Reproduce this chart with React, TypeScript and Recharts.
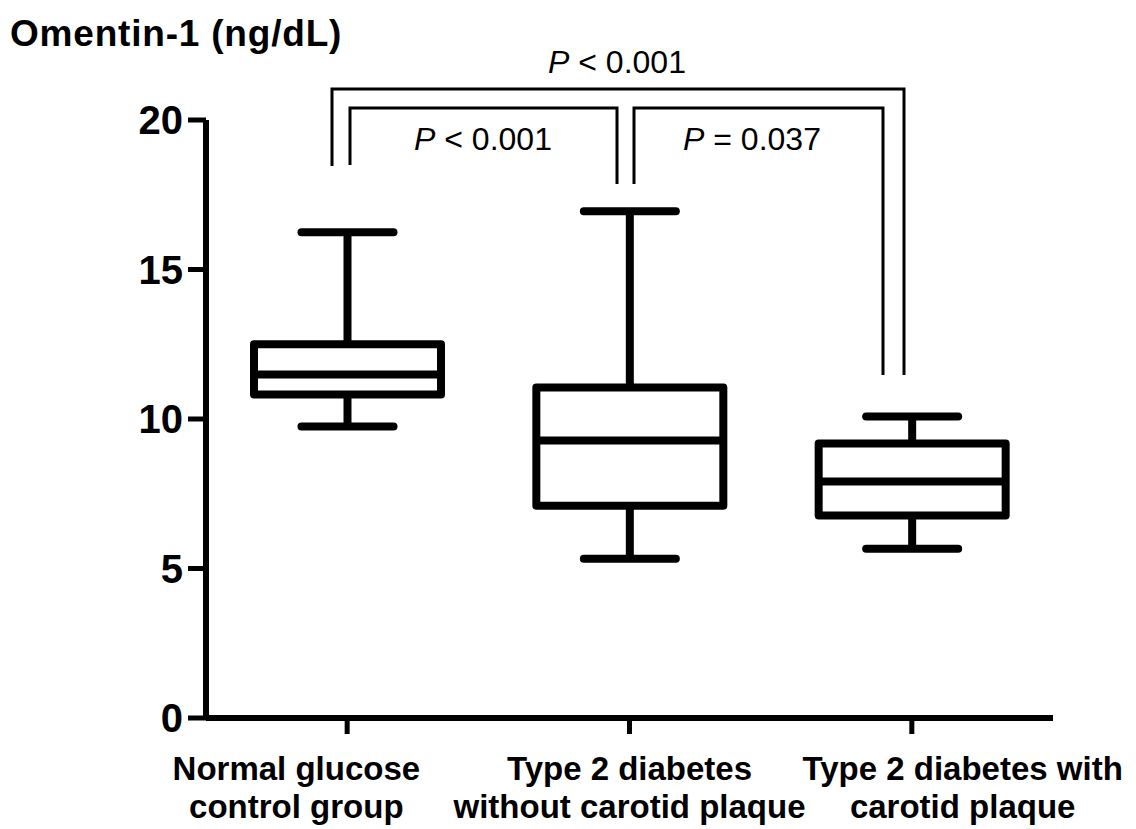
import React from 'react';
import { ComposedChart, Bar, XAxis, YAxis } from 'recharts';

// group labels (one line per entry)
const groups = [
  ['Normal glucose', 'control group'],
  ['Type 2 diabetes', 'without carotid plaque'],
  ['Type 2 diabetes with', 'carotid plaque'],
];

// box plot values, ng/dL
const mins = [9.75, 5.33, 5.66];
const q1s = [10.82, 7.1, 6.77];
const medians = [11.49, 9.28, 7.91];
const q3s = [12.5, 11.05, 9.18];
const maxs = [16.25, 16.95, 10.08];

const yTicks = [0, 5, 10, 15, 20];

const data = groups.map((g, i) => ({
  name: g.join('\n'),
  range: [mins[i], maxs[i]],
  min: mins[i],
  q1: q1s[i],
  median: medians[i],
  q3: q3s[i],
  max: maxs[i],
}));

const FONT = '"Liberation Sans", Arial, sans-serif';
const W = 1136;
const H = 829;

const BoxShape = (props: any) => {
  const { x, y, width, height, payload } = props;
  if (x == null || y == null) return null;
  const top = Math.min(y, y + height);
  const bottom = Math.max(y, y + height);
  const ppu = (bottom - top) / (payload.max - payload.min);
  const py = (v: number) => bottom - (v - payload.min) * ppu;
  const cx = x + width / 2;
  const cap = 46;
  const sw = 8;
  return (
    <g stroke="#000" strokeWidth={sw} fill="none">
      <line x1={cx} x2={cx} y1={py(payload.max)} y2={py(payload.q3)} />
      <line x1={cx} x2={cx} y1={py(payload.q1)} y2={py(payload.min)} />
      <line x1={cx - cap} x2={cx + cap} y1={py(payload.max)} y2={py(payload.max)} strokeLinecap="round" />
      <line x1={cx - cap} x2={cx + cap} y1={py(payload.min)} y2={py(payload.min)} strokeLinecap="round" />
      <rect
        x={x}
        y={py(payload.q3)}
        width={width}
        height={py(payload.q1) - py(payload.q3)}
        fill="#fff"
        strokeLinejoin="round"
      />
      <line x1={x} x2={x + width} y1={py(payload.median)} y2={py(payload.median)} />
    </g>
  );
};

const plotLeft = 206;
const plotRight = 1053;
const plotMid = (plotLeft + plotRight) / 2;

const XTick = (props: any) => {
  const { x, y, payload } = props;
  const lines = String(payload.value).split('\n');
  // labels are spread slightly wider than the ticks in the original figure
  const lx = plotMid + (x - plotMid) * 1.18;
  return (
    <text x={lx} y={y} textAnchor="middle" fontFamily={FONT} fontWeight="bold" fontSize={33} fill="#000">
      {lines.map((l, i) => (
        <tspan key={i} x={lx} dy={i === 0 ? 44 : 38}>
          {l}
        </tspan>
      ))}
    </text>
  );
};

const PLabel = ({ x, y, op, val }: { x: number; y: number; op: string; val: string }) => (
  <text x={x} y={y} textAnchor="middle" fontFamily={FONT} fontSize={32} fill="#000">
    <tspan fontStyle="italic">P</tspan> {op} {val}
  </text>
);

export default function App() {
  return (
    <div style={{ position: 'absolute', left: 0, top: 0, width: W, height: H, background: '#fff' }}>
      <ComposedChart
        width={W}
        height={H}
        data={data}
        margin={{ top: 120, right: W - plotRight, bottom: 0, left: 0 }}
      >
        <XAxis
          dataKey="name"
          height={111}
          axisLine={{ stroke: '#000', strokeWidth: 6 }}
          tickLine={{ stroke: '#000', strokeWidth: 5 }}
          tickSize={16}
          tickMargin={2}
          tick={<XTick />}
          interval={0}
        />
        <YAxis
          width={plotLeft}
          domain={[0, 20]}
          ticks={yTicks}
          allowDataOverflow
          axisLine={{ stroke: '#000', strokeWidth: 6 }}
          tickLine={{ stroke: '#000', strokeWidth: 5 }}
          tickSize={18}
          tickMargin={5}
          tick={{ fill: '#000', fontSize: 40, fontWeight: 'bold', fontFamily: FONT }}
        />
        <Bar dataKey="range" barSize={187} shape={<BoxShape />} isAnimationActive={false} />
      </ComposedChart>
      <svg
        width={W}
        height={H}
        style={{ position: 'absolute', left: 0, top: 0, pointerEvents: 'none' }}
      >
        <text x={10} y={46} fontFamily={FONT} fontWeight="bold" fontSize={37} letterSpacing={0.8} fill="#000">
          Omentin-1 (ng/dL)
        </text>
        <g stroke="#000" strokeWidth={3} fill="none">
          <polyline points="332,166 332,89 904,89 904,375" />
          <polyline points="350,165 350,108 617,108 617,184" />
          <polyline points="634,184 634,108 883,108 883,375" />
        </g>
        <PLabel x={617} y={73} op="<" val="0.001" />
        <PLabel x={483} y={150} op="<" val="0.001" />
        <PLabel x={752} y={150} op="=" val="0.037" />
      </svg>
    </div>
  );
}
